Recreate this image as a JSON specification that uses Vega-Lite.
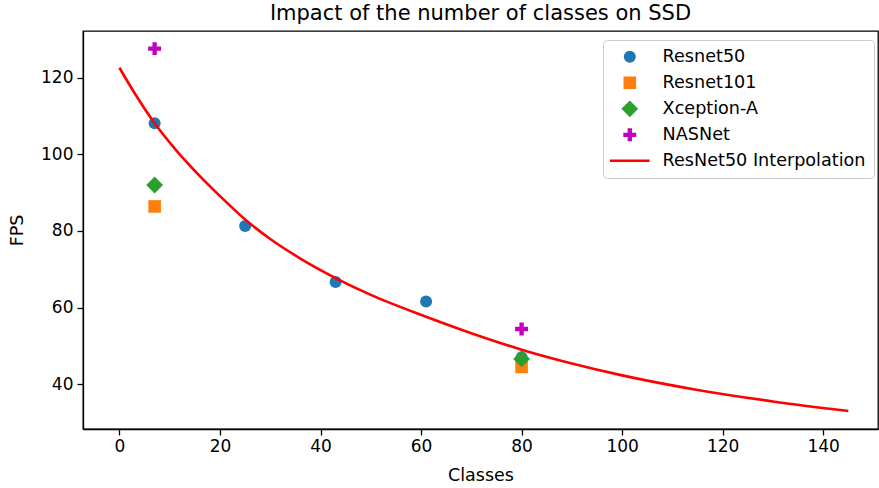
{
  "$schema": "https://vega.github.io/schema/vega-lite/v6.json",
  "autosize": "none",
  "width": 795,
  "height": 398,
  "padding": {"left": 83, "top": 31, "right": 1, "bottom": 59},
  "background": "white",
  "title": {"text": "Impact of the number of classes on SSD", "font": "DejaVu Sans", "fontSize": 21, "fontWeight": "normal", "color": "black", "offset": 7},
  "config": {
    "font": "DejaVu Sans",
    "view": {"stroke": "black", "strokeWidth": 1.3},
    "axis": {"grid": false, "domainColor": "black", "domainWidth": 1.3, "tickColor": "black", "tickWidth": 1.3, "tickSize": 6, "labelFont": "DejaVu Sans", "labelFontSize": 17, "labelColor": "black", "titleFont": "DejaVu Sans", "titleFontSize": 17.5, "titleFontWeight": "normal", "titleColor": "black"}
  },
  "datasets": {
    "pts": [
      {"series": "Resnet50", "classes": 7, "fps": 108.1},
      {"series": "Resnet50", "classes": 25, "fps": 81.3},
      {"series": "Resnet50", "classes": 43, "fps": 66.7},
      {"series": "Resnet50", "classes": 61, "fps": 61.6},
      {"series": "Resnet50", "classes": 80, "fps": 47.0},
      {"series": "Resnet101", "classes": 7, "fps": 86.4},
      {"series": "Resnet101", "classes": 80, "fps": 44.5},
      {"series": "Xception-A", "classes": 7, "fps": 92.0},
      {"series": "Xception-A", "classes": 80, "fps": 46.6},
      {"series": "NASNet", "classes": 7, "fps": 127.6},
      {"series": "NASNet", "classes": 80, "fps": 54.4}
    ],
    "fit": [
      {"series": "ResNet50 Interpolation", "classes": 0, "fps": 122.6},
      {"series": "ResNet50 Interpolation", "classes": 3, "fps": 116.0},
      {"series": "ResNet50 Interpolation", "classes": 7, "fps": 108.1},
      {"series": "ResNet50 Interpolation", "classes": 11, "fps": 101.5},
      {"series": "ResNet50 Interpolation", "classes": 16, "fps": 94.3},
      {"series": "ResNet50 Interpolation", "classes": 20, "fps": 89.1},
      {"series": "ResNet50 Interpolation", "classes": 25, "fps": 83.0},
      {"series": "ResNet50 Interpolation", "classes": 30, "fps": 77.9},
      {"series": "ResNet50 Interpolation", "classes": 36, "fps": 72.8},
      {"series": "ResNet50 Interpolation", "classes": 43, "fps": 67.7},
      {"series": "ResNet50 Interpolation", "classes": 50, "fps": 63.3},
      {"series": "ResNet50 Interpolation", "classes": 61, "fps": 57.6},
      {"series": "ResNet50 Interpolation", "classes": 70, "fps": 53.3},
      {"series": "ResNet50 Interpolation", "classes": 80, "fps": 49.0},
      {"series": "ResNet50 Interpolation", "classes": 90, "fps": 45.4},
      {"series": "ResNet50 Interpolation", "classes": 100, "fps": 42.3},
      {"series": "ResNet50 Interpolation", "classes": 115, "fps": 38.5},
      {"series": "ResNet50 Interpolation", "classes": 130, "fps": 35.5},
      {"series": "ResNet50 Interpolation", "classes": 145, "fps": 33.0}
    ]
  },
  "encoding": {
    "x": {"field": "classes", "type": "quantitative", "title": "Classes", "scale": {"domain": [-7.25, 150.9], "nice": false, "zero": false}, "axis": {"values": [0, 20, 40, 60, 80, 100, 120, 140], "labelPadding": 3, "titleY": 51, "titleBaseline": "alphabetic"}},
    "y": {"field": "fps", "type": "quantitative", "title": "FPS", "scale": {"domain": [28.3, 132.2], "nice": false, "zero": false}, "axis": {"values": [40, 60, 80, 100, 120], "labelPadding": 4, "titleX": -57}}
  },
  "layer": [
    {
      "data": {"name": "pts"},
      "mark": {"type": "point", "filled": true, "opacity": 1, "size": 144},
      "encoding": {
        "color": {"field": "series", "type": "nominal", "title": null,
          "scale": {"domain": ["Resnet50", "Resnet101", "Xception-A", "NASNet", "ResNet50 Interpolation"], "range": ["#1f77b4", "#ff7f0e", "#2ca02c", "#bf00bf", "#ff0000"]},
          "legend": {"orient": "none", "legendX": 520, "legendY": 9, "padding": 8, "strokeColor": "#cccccc", "fillColor": "white", "cornerRadius": 4, "labelFontSize": 17.6, "labelFont": "DejaVu Sans", "labelColor": "black", "labelLimit": 400, "symbolSize": 144, "rowPadding": 7, "labelOffset": 24, "symbolOffset": 10, "symbolOpacity": 1,
            "encode": {"symbols": {"update": {"fill": {"scale": "color", "field": "value"}, "stroke": {"scale": "color", "field": "value"}, "strokeWidth": {"signal": "datum.value === 'ResNet50 Interpolation' ? 2.5 : 0"}, "opacity": {"value": 1}}}}}
        },
        "shape": {"field": "series", "type": "nominal", "title": null,
          "scale": {"domain": ["Resnet50", "Resnet101", "Xception-A", "NASNet", "ResNet50 Interpolation"], "range": ["circle", "M-1.05,-1.05L1.05,-1.05L1.05,1.05L-1.05,1.05Z", "M0,-1.4L1.4,0L0,1.4L-1.4,0Z", "M-0.36,-1.08L0.36,-1.08L0.36,-0.36L1.08,-0.36L1.08,0.36L0.36,0.36L0.36,1.08L-0.36,1.08L-0.36,0.36L-1.08,0.36L-1.08,-0.36L-0.36,-0.36Z", "M-3.3,0L3.3,0"]}}
      }
    },
    {
      "data": {"name": "fit"},
      "mark": {"type": "line", "color": "#ff0000", "strokeWidth": 2.6, "interpolate": "monotone"},
      "encoding": {
        "color": {"field": "series", "type": "nominal", "title": null}
      }
    }
  ]
}
